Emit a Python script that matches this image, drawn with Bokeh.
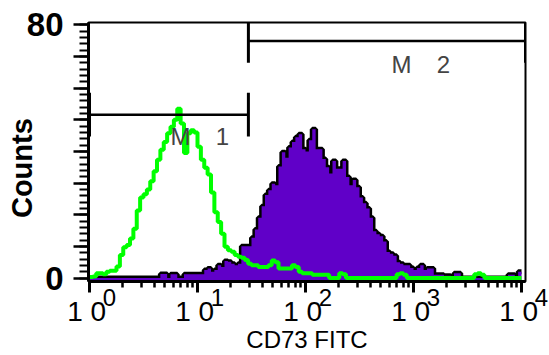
import numpy as np
from bokeh.plotting import figure
from bokeh.models import Range1d, FixedTicker, Label, LogAxis
from bokeh.embed import file_html
from bokeh.resources import INLINE

# ---- data (128 log-spaced channels from 10^0 to 10^4) ----
green_counts = [0.3, 0.5, 1.5, 1.5, 1.2, 2.0, 2.3, 2.3, 3.6, 7.3,
                9.7, 10.4, 12.5, 15.6, 21.3, 25.4, 26.5, 28.0, 30.6, 33.7,
                37.4, 40.5, 43.0, 45.7, 47.8, 50.0, 53.5, 48.8, 39.5, 45.7,
                46.7, 46.0, 41.5, 37.4, 34.8, 32.7, 27.0, 20.8, 17.7, 14.0,
                9.9, 8.8, 8.3, 7.3, 6.7, 6.4, 5.7, 4.5, 4.0, 4.0,
                3.5, 3.5, 3.5, 4.0, 5.5, 5.0, 3.0, 3.0, 3.0, 3.0,
                4.0, 3.5, 2.0, 1.5, 1.5, 1.5, 1.0, 1.0, 1.0, 1.0,
                1.0, 0, 0, 0, 1.5, 1.2, 0, 0, 0, 0,
                0, 0, 0, 0, 0, 0, 0, 0, 0, 0,
                0, 1.2, 1.5, 1.0, 0, 0, 0, 0, 0, 0,
                0, 0, 0, 0, 0, 0, 0, 0, 0, 0,
                0, 0, 0, 0, 1.2, 1.5, 1.0, 0, 0, 0,
                0, 0, 0, 0, 0, 0, 0, 0]

purple_counts = [0, 0, 0, 0, 0, 0, 0, 0, 0, 0,
                 0, 0, 0, 0, 0, 0, 0, 0, 0, 0,
                 0, 1.3, 1.3, 0, 1.2, 1.2, 0, 0, 1.2, 1.2,
                 1.2, 1.2, 1.2, 1.2, 2.5, 3.0, 2.0, 2.5, 4.0, 3.5,
                 5.4, 5.1, 4.5, 4.0, 4.5, 10.0, 10.0, 10.0, 12.7, 15.3,
                 19.0, 22.7, 26.2, 27.7, 29.8, 29.3, 35.2, 39.7, 38.0, 41.2,
                 43.0, 44.5, 45.4, 40.7, 40.0, 43.5, 47.0, 40.7, 40.7, 37.6,
                 35.0, 33.0, 37.0, 34.5, 34.5, 37.0, 31.9, 29.3, 31.0, 28.7,
                 25.4, 23.6, 22.0, 19.0, 14.8, 13.8, 13.2, 11.5, 8.2, 7.7,
                 7.0, 5.0, 4.5, 4.0, 4.0, 3.2, 2.5, 3.2, 4.0, 2.5,
                 3.0, 3.0, 1.0, 1.0, 1.0, 0.7, 0.7, 0.5, 1.5, 1.5,
                 0, 0, 0, 0, 0, 0, 0, 0, 0, 0,
                 0, 0, 0, 0, 1.0, 1.0, 0, 2.0]

tick_values = [1, 10, 100, 1000, 10000]
tick_base = "1 0"
tick_exponents = ["0", "1", "2", "3", "4"]
y_major = [0, 10, 20, 30, 40, 50, 60, 70, 80]
y_labels = {0: "0", 80: "80"}

# gates (markers): name, low, high, level
marker_names = ["M\u2007\u20021", "M\u2007\u20022"]
marker_low = [1.0, 29.6]
marker_high = [29.6, 10 ** 4.037]
marker_level = [51.6, 74.9]

x_title = "CD73 FITC"
y_title = "Counts"

# ---- figure ----
edges = 10 ** np.linspace(0.0, 4.0, len(green_counts) + 1)
g_ext = list(green_counts) + [green_counts[-1]]
p_ext = list(purple_counts) + [purple_counts[-1]]

p = figure(width=549, height=355, x_axis_type="log",
           x_range=Range1d(10 ** -0.00926, 10 ** 4.037),
           y_range=Range1d(-1.1, 80.72),
           output_backend="svg", toolbar_location=None,
           min_border_left=88, min_border_right=24,
           min_border_top=22, min_border_bottom=72)
p.background_fill_color = "white"
p.border_fill_color = "white"
p.outline_line_color = "black"
p.outline_line_width = 2
p.xgrid.visible = False
p.ygrid.visible = False

# purple histogram: black outline then fill
p.step(edges, p_ext, mode="after", line_color="black", line_width=5)
p.varea_step(x=edges, y1=[-1.1] * len(edges), y2=p_ext, step_mode="after",
             fill_color="#6000C8")
# green histogram
p.step(edges, g_ext, mode="after", line_color="#00FF00", line_width=4)

# markers
p.segment(x0=marker_low, y0=marker_level, x1=marker_high, y1=marker_level,
          line_color="black", line_width=2.5)
bar_x = marker_low + marker_high
bar_lv = marker_level + marker_level
p.segment(x0=bar_x, y0=[v - 6.9 for v in bar_lv], x1=bar_x,
          y1=[v + 6.9 for v in bar_lv], line_color="black", line_width=3)

p.add_layout(Label(x=10 ** 0.75, y=44.7, text=marker_names[0],
                   text_font="Liberation Sans", text_font_size="24px",
                   text_align="left", text_baseline="alphabetic"))
p.add_layout(Label(x=10 ** 2.796, y=67.5, text=marker_names[1],
                   text_font="Liberation Sans", text_font_size="24px",
                   text_align="left", text_baseline="alphabetic"))

# ---- x axis: ticks, "1 0" base labels and the axis title ----
xa = p.xaxis[0]
xa.ticker = FixedTicker(ticks=tick_values,
                        minor_ticks=[m * 10 ** k for k in range(4) for m in range(2, 10)])
xa.major_label_overrides = {v: tick_base + "\u2009" for v in tick_values}
xa.major_label_text_font = "Liberation Sans"
xa.major_label_text_font_size = "28px"
xa.major_label_text_color = "black"
xa.major_label_standoff = 3
xa.axis_line_width = 3
xa.major_tick_line_width = 3
xa.minor_tick_line_width = 2.5
xa.major_tick_out = 11
xa.major_tick_in = 0
xa.minor_tick_out = 6
xa.minor_tick_in = 0
xa.axis_label = x_title
xa.axis_label_text_font = "Liberation Sans"
xa.axis_label_text_font_style = "normal"
xa.axis_label_text_font_size = "24px"
xa.axis_label_text_color = "black"
xa.axis_label_standoff = -4

# second label row: the exponents (superscripts), pulled back up
xe = LogAxis(ticker=FixedTicker(ticks=tick_values, minor_ticks=[]))
xe.major_label_overrides = {v: "\u2007\u2007\u2007" + e
                            for v, e in zip(tick_values, tick_exponents)}
xe.major_label_text_font = "Liberation Sans"
xe.major_label_text_font_size = "24px"
xe.major_label_text_color = "black"
xe.major_label_standoff = -72
xe.axis_line_color = None
xe.major_tick_line_color = None
xe.minor_tick_line_color = None
xe.major_tick_out = 0
xe.major_tick_in = 0
xe.minor_tick_out = 0
xe.minor_tick_in = 0
p.add_layout(xe, "below")

# ---- y axis ----
ya = p.yaxis[0]
ya.ticker = FixedTicker(ticks=y_major, minor_ticks=list(range(0, 81, 2)))
ya.major_label_overrides = {v: y_labels.get(v, "") for v in y_major}
ya.major_label_text_font = "Liberation Sans"
ya.major_label_text_font_style = "bold"
ya.major_label_text_font_size = "33px"
ya.major_label_text_color = "black"
ya.major_label_standoff = 10
ya.axis_line_width = 3
ya.major_tick_line_width = 2.5
ya.minor_tick_line_width = 2
ya.major_tick_out = 15
ya.major_tick_in = 0
ya.minor_tick_out = 9
ya.minor_tick_in = 0
ya.axis_label = y_title + "\u2007\u2007"
ya.axis_label_text_font = "Liberation Sans"
ya.axis_label_text_font_style = "bold"
ya.axis_label_text_font_size = "29px"
ya.axis_label_text_color = "black"
ya.axis_label_standoff = -14

open("out.html", "w").write(file_html(p, INLINE))
